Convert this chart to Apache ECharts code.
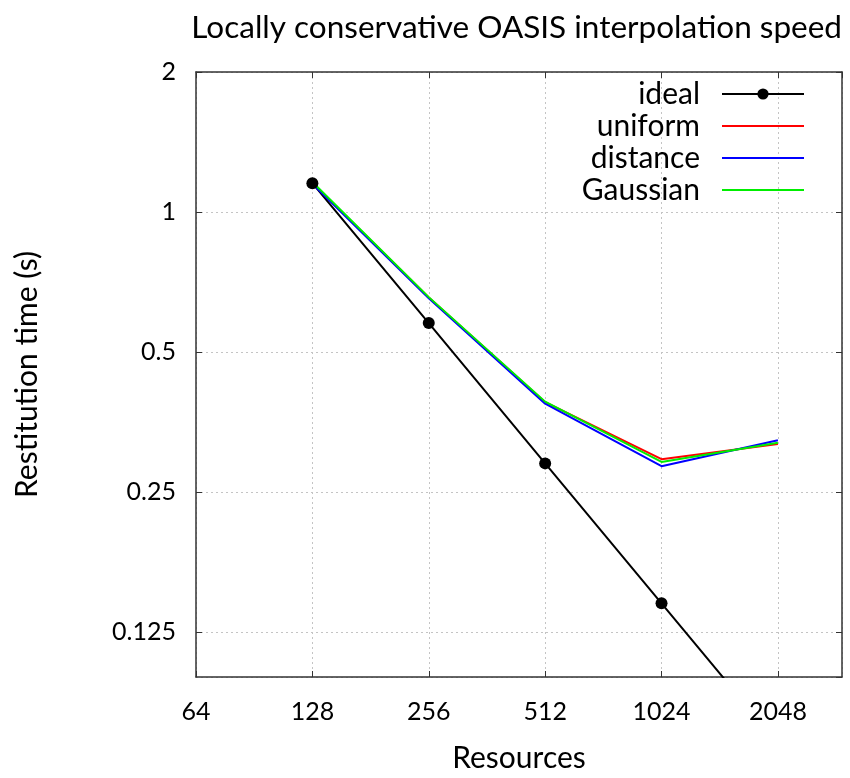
<!DOCTYPE html>
<html>
<head>
<meta charset="utf-8">
<title>Locally conservative OASIS interpolation speed</title>
<script src="https://cdn.jsdelivr.net/npm/echarts@6/dist/echarts.min.js"></script>
<style>
    html, body { margin: 0; padding: 0; background: #fff; }
    #container { width: 850px; height: 778px; }
</style>
</head>
<body>
<div id="container"></div>
<script type="text/javascript">
    // data
    var resources = [128, 256, 512, 1024, 2048];
    var ideal    = [1.153, 0.577, 0.288, 0.144, 0.072];
    var uniform  = [1.155, 0.655, 0.390, 0.294, 0.317];
    var distance = [1.150, 0.652, 0.387, 0.284, 0.323];
    var gaussian = [1.160, 0.656, 0.391, 0.290, 0.319];

    var font = 'Lato';

    function pairs(ys) {
        var out = [];
        for (var i = 0; i < resources.length; i++) {
            out.push([resources[i], ys[i]]);
        }
        return out;
    }

    var dom = document.getElementById("container");
    var myChart = echarts.init(dom);

    var gridLine = { show: true, lineStyle: { color: '#c4c4c4', type: [2, 3], width: 1 } };
    var border = { show: true, lineStyle: { color: '#333', width: 1.5 } };
    var inTick = { show: true, inside: true, length: 6, lineStyle: { color: '#333' } };

    var option = {
        backgroundColor: '#fff',
        animation: false,
        title: {
            text: 'Locally conservative OASIS interpolation speed',
            right: 3,
            top: 7,
            textStyle: { fontFamily: font, fontSize: 31.5, fontWeight: 'normal', color: '#000' }
        },
        legend: {
            orient: 'vertical',
            align: 'right',
            right: 40,
            top: 73,
            itemWidth: 82,
            itemHeight: 14,
            itemGap: 0,
            textStyle: { fontFamily: font, fontSize: 30, lineHeight: 32, color: '#000', padding: [0, 17, 0, 0] },
            data: [
                { name: 'ideal' },
                { name: 'uniform', itemStyle: { opacity: 0 } },
                { name: 'distance', itemStyle: { opacity: 0 } },
                { name: 'Gaussian', itemStyle: { opacity: 0 } }
            ]
        },
        grid: {
            left: 196,
            right: 8,
            top: 72,
            bottom: 96
        },
        xAxis: [
            {
                type: 'log',
                logBase: 2,
                min: 64,
                max: 3000,
                name: 'Resources',
                nameLocation: 'middle',
                nameGap: 66,
                nameTextStyle: { fontFamily: font, fontSize: 30, color: '#000' },
                axisLine: border,
                axisTick: inTick,
                splitLine: gridLine,
                axisLabel: {
                    fontFamily: font, fontSize: 25, color: '#000', margin: 22,
                    showMaxLabel: false,
                    formatter: function (v) { return String(Math.round(v)); }
                }
            },
            {
                type: 'log',
                logBase: 2,
                min: 64,
                max: 3000,
                position: 'top',
                axisLine: border,
                axisTick: inTick,
                splitLine: { show: false },
                axisLabel: { show: false }
            }
        ],
        yAxis: [
            {
                type: 'log',
                logBase: 2,
                min: 0.1,
                max: 2,
                name: 'Restitution time (s)',
                nameLocation: 'middle',
                nameRotate: 90,
                nameGap: 154,
                nameTextStyle: { fontFamily: font, fontSize: 30, color: '#000' },
                axisLine: border,
                axisTick: inTick,
                splitLine: gridLine,
                axisLabel: {
                    fontFamily: font, fontSize: 25, color: '#000', margin: 20,
                    showMinLabel: false
                }
            },
            {
                type: 'log',
                logBase: 2,
                min: 0.1,
                max: 2,
                position: 'right',
                axisLine: border,
                axisTick: inTick,
                splitLine: { show: false },
                axisLabel: { show: false }
            }
        ],
        series: [
            {
                name: 'ideal',
                type: 'line',
                data: pairs(ideal),
                symbol: 'circle',
                symbolSize: 12,
                color: '#000',
                lineStyle: { width: 2, color: '#000' },
                itemStyle: { color: '#000' },
                clip: true
            },
            {
                name: 'uniform',
                type: 'line',
                data: pairs(uniform),
                symbol: 'none',
                color: '#ff0000',
                lineStyle: { width: 2, color: '#ff0000' }
            },
            {
                name: 'distance',
                type: 'line',
                data: pairs(distance),
                symbol: 'none',
                color: '#0000ff',
                lineStyle: { width: 2, color: '#0000ff' }
            },
            {
                name: 'Gaussian',
                type: 'line',
                data: pairs(gaussian),
                symbol: 'none',
                color: '#00ee00',
                lineStyle: { width: 2, color: '#00ee00' }
            }
        ]
    };

    if (option && typeof option === 'object') {
        myChart.setOption(option);
    }
</script>
</body>
</html>
